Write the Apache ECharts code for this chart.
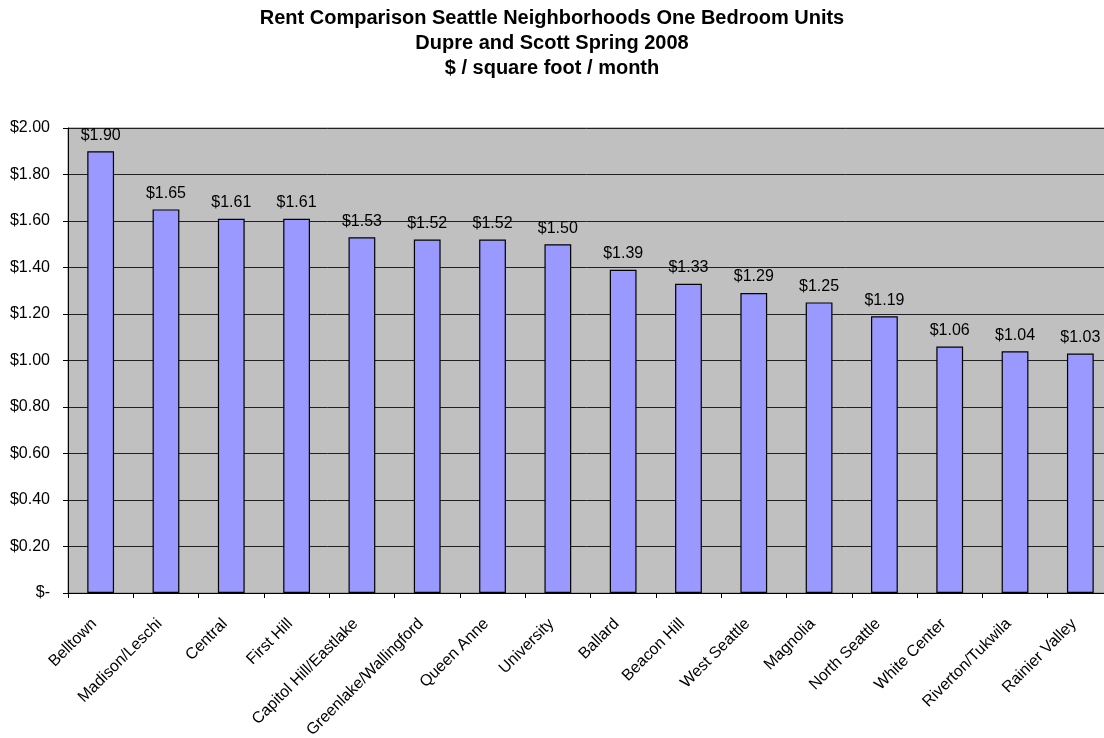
<!DOCTYPE html>
<html>
<head>
<meta charset="utf-8">
<style>
  html, body { margin: 0; padding: 0; background: #fff; overflow: hidden; }
  #chart { width: 1104px; height: 738px; }
</style>
<script src="https://cdn.jsdelivr.net/npm/echarts@6/dist/echarts.min.js"></script>
</head>
<body>
<div id="chart"></div>
<script>
// Seattle neighborhoods, one bedroom units, rent in $ per square foot per month
const neighborhoods = [
  'Belltown', 'Madison/Leschi', 'Central', 'First Hill', 'Capitol Hill/Eastlake',
  'Greenlake/Wallingford', 'Queen Anne', 'University', 'Ballard', 'Beacon Hill',
  'West Seattle', 'Magnolia', 'North Seattle', 'White Center', 'Riverton/Tukwila',
  'Rainier Valley'
];
const rentPerSqFt = [1.90, 1.65, 1.61, 1.61, 1.53, 1.52, 1.52, 1.50, 1.39, 1.33, 1.29, 1.25, 1.19, 1.06, 1.04, 1.03];
const titleLines = [
  'Rent Comparison Seattle Neighborhoods One Bedroom Units',
  'Dupre and Scott Spring 2008',
  '$ / square foot / month'
];

const fontFamily = 'Liberation Sans, Arial, sans-serif';
const money = v => v === 0 ? '$-' : '$' + v.toFixed(2);

const chart = echarts.init(document.getElementById('chart'));
chart.setOption({
  animation: false,
  title: {
    text: titleLines.join('\n'),
    left: 'center',
    top: 1,
    textStyle: { fontFamily, fontSize: 20, fontWeight: 'bold', color: '#000', lineHeight: 25 }
  },
  // plot area runs slightly past the right edge of the page
  grid: {
    left: 68, width: 1045, top: 128, height: 465,
    outerBoundsMode: 'none',
    show: true, backgroundColor: '#C0C0C0', borderColor: '#808080', borderWidth: 1
  },
  xAxis: {
    type: 'category',
    data: neighborhoods,
    axisLine: { lineStyle: { color: '#000', width: 1 } },
    axisTick: { show: true, length: 5, lineStyle: { color: '#000' } },
    axisLabel: {
      interval: 0, rotate: 45, margin: 22,
      padding: [0, 9, 0, 0],
      fontFamily, fontSize: 16, color: '#000'
    }
  },
  yAxis: {
    type: 'value',
    min: 0, max: 2, interval: 0.2,
    axisLine: { show: true, lineStyle: { color: '#000', width: 1 } },
    axisTick: { show: true, length: 5, lineStyle: { color: '#000' } },
    splitLine: { show: true, lineStyle: { color: '#202020', width: 1 } },
    axisLabel: {
      formatter: money, margin: 18,
      fontFamily, fontSize: 16, color: '#000'
    }
  },
  series: [{
    type: 'bar',
    data: rentPerSqFt,
    barWidth: '41%',
    itemStyle: { color: '#9999FF', borderColor: '#000', borderWidth: 1.2 },
    label: {
      show: true, position: 'top', distance: 8,
      formatter: p => money(p.value),
      fontFamily, fontSize: 16, color: '#000'
    }
  }]
});
</script>
</body>
</html>
